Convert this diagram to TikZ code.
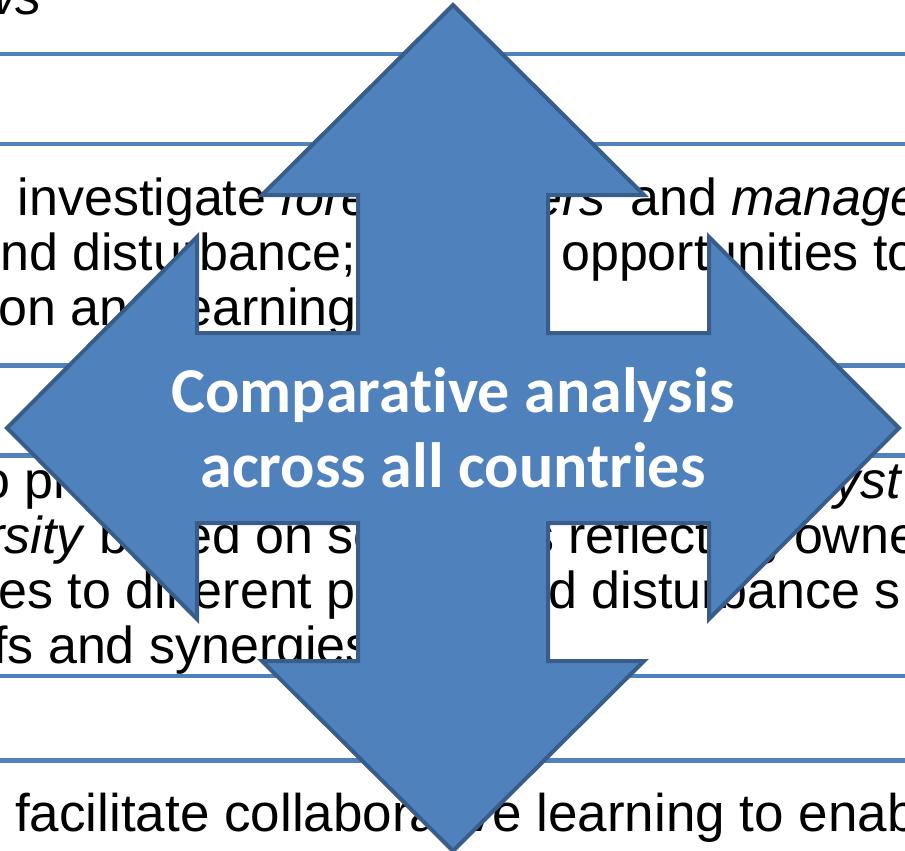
\documentclass[tikz,border=0pt]{standalone}
\usepackage{fontspec}
\setmainfont{Liberation Sans}
\newfontfamily\titlefont{Carlito}[Ligatures=NoCommon]
\newlength{\du}
\setlength{\du}{1pt}
\tikzset{
  slidetext/.style={anchor=base west, inner sep=0pt, text=black, font=\fontsize{52\du}{55\du}\selectfont},
  arrowtext/.style={anchor=base, inner sep=0pt, text=white, font=\titlefont\bfseries\fontsize{64\du}{75\du}\selectfont}
}
\begin{document}
\begin{tikzpicture}
\pgftransformxscale{1.000000}
\pgftransformyscale{-1.000000}
\useasboundingbox (0\du,0\du) rectangle (905\du,851\du);
% table rules behind the arrow
\definecolor{dialinecolor}{rgb}{0.309804, 0.505882, 0.741176}
\pgfsetstrokecolor{dialinecolor}
\pgfsetlinewidth{4.500000\du}
\pgfsetdash{}{0pt}
\draw (0\du,54.200000\du)--(905\du,54.200000\du);
\draw (0\du,144.000000\du)--(905\du,144.000000\du);
\draw (0\du,365.500000\du)--(905\du,365.500000\du);
\draw (0\du,455.500000\du)--(905\du,455.500000\du);
\draw (0\du,676.000000\du)--(905\du,676.000000\du);
\draw (0\du,760.300000\du)--(905\du,760.300000\du);
% table text
\node[slidetext] (flows) at (-24.500000\du,14.500000\du){\textit{ws}};
\node[slidetext] (investigate) at (15.500000\du,215.000000\du){investigate \textit{fore}};
\node[slidetext] (owners) at (531.000000\du,215.000000\du){\textit{ers}};
\node[slidetext] (managers) at (628.000000\du,215.000000\du){and \textit{manage}};
\node[slidetext] (disturbance) at (-2.000000\du,270.000000\du){nd disturbance;};
\node[slidetext] (opportunities) at (559.000000\du,270.000000\du){opportunities to};
\node[slidetext] (learning) at (-4.000000\du,325.000000\du){on and learning};
\node[slidetext] (provide) at (-21.000000\du,498.000000\du){o pr};
\node[slidetext] (ecosystem) at (832.000000\du,498.000000\du){\textit{yst}};
\node[slidetext] (diversity) at (-15.000000\du,553.000000\du){\textit{rsity} based on sc};
\node[slidetext] (reflecting) at (526.000000\du,553.000000\du){s reflecting owne};
\node[slidetext] (different) at (-4.000000\du,608.000000\du){es to different p};
\node[slidetext] (regimes) at (546.000000\du,608.000000\du){d disturbance s};
\node[slidetext] (synergies) at (-9.000000\du,663.000000\du){fs and synergies};
\node[slidetext, font=\fontsize{53\du}{55\du}\selectfont] (collaborative) at (13.000000\du,831.000000\du){facilitate collaborative learning to enab};
% quad arrow
{
\definecolor{dialinecolor}{rgb}{0.309804, 0.505882, 0.741176}
\pgfsetfillcolor{dialinecolor}
\definecolor{dialinecolor}{rgb}{0.219608, 0.364706, 0.541176}
\pgfsetstrokecolor{dialinecolor}
\pgfsetlinewidth{4.000000\du}
\pgfsetdash{}{0pt}
\pgfpathmoveto{\pgfpoint{453.000000\du}{5.000000\du}}
\pgfpathlineto{\pgfpoint{644.000000\du}{195.000000\du}}
\pgfpathlineto{\pgfpoint{548.000000\du}{195.000000\du}}
\pgfpathlineto{\pgfpoint{548.000000\du}{333.000000\du}}
\pgfpathlineto{\pgfpoint{709.000000\du}{333.000000\du}}
\pgfpathlineto{\pgfpoint{709.000000\du}{237.000000\du}}
\pgfpathlineto{\pgfpoint{899.000000\du}{428.000000\du}}
\pgfpathlineto{\pgfpoint{709.000000\du}{619.000000\du}}
\pgfpathlineto{\pgfpoint{709.000000\du}{523.000000\du}}
\pgfpathlineto{\pgfpoint{548.000000\du}{523.000000\du}}
\pgfpathlineto{\pgfpoint{548.000000\du}{661.000000\du}}
\pgfpathlineto{\pgfpoint{644.000000\du}{661.000000\du}}
\pgfpathlineto{\pgfpoint{453.000000\du}{851.000000\du}}
\pgfpathlineto{\pgfpoint{262.000000\du}{661.000000\du}}
\pgfpathlineto{\pgfpoint{358.000000\du}{661.000000\du}}
\pgfpathlineto{\pgfpoint{358.000000\du}{523.000000\du}}
\pgfpathlineto{\pgfpoint{197.000000\du}{523.000000\du}}
\pgfpathlineto{\pgfpoint{197.000000\du}{619.000000\du}}
\pgfpathlineto{\pgfpoint{7.000000\du}{428.000000\du}}
\pgfpathlineto{\pgfpoint{197.000000\du}{237.000000\du}}
\pgfpathlineto{\pgfpoint{197.000000\du}{333.000000\du}}
\pgfpathlineto{\pgfpoint{358.000000\du}{333.000000\du}}
\pgfpathlineto{\pgfpoint{358.000000\du}{195.000000\du}}
\pgfpathlineto{\pgfpoint{262.000000\du}{195.000000\du}}
\pgfpathclose
\pgfusepath{fill,stroke}
}
% label on the arrow
\node[arrowtext] (comparative) at (453.000000\du,412.000000\du){Comparative analysis};
\node[arrowtext] (countries) at (453.000000\du,487.000000\du){across all countries};
\end{tikzpicture}
\end{document}
